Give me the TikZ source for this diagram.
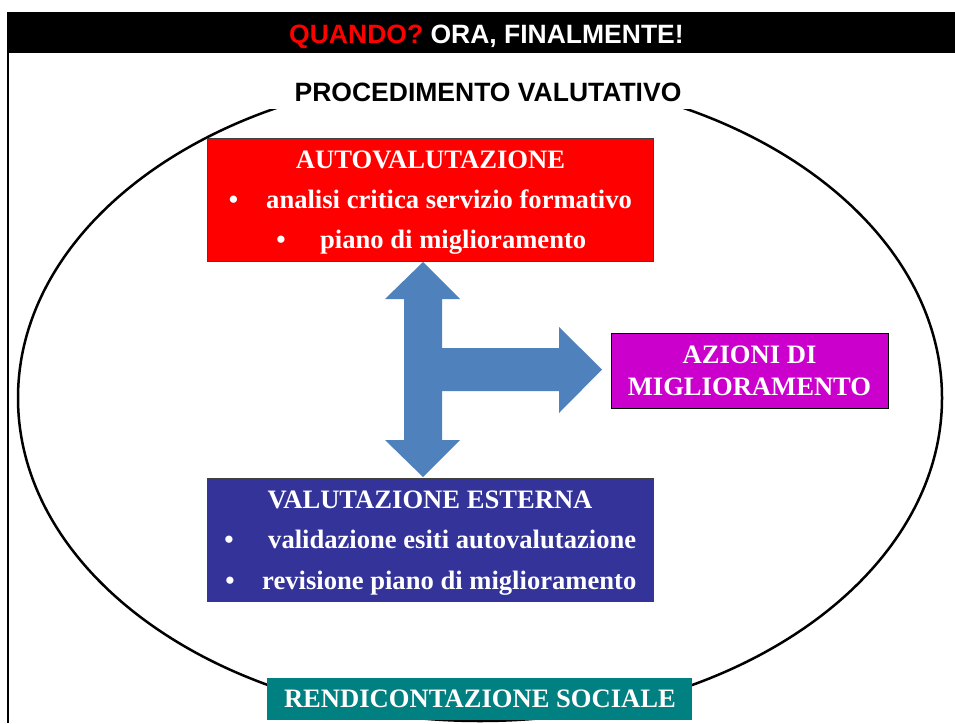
\documentclass[tikz,border=0pt]{standalone}
\usepackage{fontspec}
\setmainfont{Liberation Serif}
\newfontfamily\arialf{Liberation Sans}
\definecolor{boxred}{HTML}{FF0000}
\definecolor{boxblue}{HTML}{333399}
\definecolor{boxmag}{HTML}{CC00CC}
\definecolor{boxteal}{HTML}{008080}
\definecolor{arrowblue}{HTML}{4F81BD}
\begin{document}
\begin{tikzpicture}[x=1pt,y=-1pt,
  panel/.style={draw=black!75, line width=1pt, inner sep=0pt},
  serifbold/.style={font=\fontsize{26.6}{32}\selectfont\bfseries, text=white, inner sep=0pt},
  sansbold/.style={font=\arialf\fontsize{26.5}{30}\selectfont\bfseries, inner sep=0pt},
  bul/.style={serifbold, anchor=base},
  line/.style={serifbold, anchor=base west}]
\useasboundingbox (0,0) rectangle (955,723);
\fill[white] (0,0) rectangle (955,723);
% frame
\node[fill=black, minimum width=948pt, minimum height=41pt, inner sep=0pt] (bar) at (481,32.5) {};
\node[sansbold, anchor=base, text=white] (title) at (486.5,43) {\textcolor{boxred}{QUANDO?} ORA, FINALMENTE!};
\draw[line width=2pt, black] (8,53) -- (8,723);
% ellipse
\draw[line width=2.5pt] (480,398) ellipse [x radius=462, y radius=323];
\node[fill=white, minimum width=426pt, minimum height=38pt, inner sep=0pt] (procbg) at (480,90) {};
\node[sansbold, anchor=base, text=black] (proc) at (488,101.5) {PROCEDIMENTO VALUTATIVO};
% arrow
\fill[arrowblue] (423,262) -- (385,299) -- (404,299) -- (404,440) -- (385,440) -- (423,477)
  -- (460,440) -- (442,440) -- (442,391) -- (559,391) -- (559,413) -- (602,369.5)
  -- (559,327) -- (559,348) -- (442,348) -- (442,299) -- (460,299) -- cycle;
% red box
\node[panel, fill=boxred, minimum width=446pt, minimum height=123pt] (auto) at (430,199.5) {};
\node[bul] (autot) at (430.5,168) {AUTOVALUTAZIONE};
\node[bul] (autob1) at (233.5,208) {\textbullet};
\node[line] (autol1) at (266,208) {analisi critica servizio formativo};
\node[bul] (autob2) at (281,248) {\textbullet};
\node[line] (autol2) at (320,248) {piano di miglioramento};
% magenta box
\node[panel, draw=black, fill=boxmag, minimum width=277pt, minimum height=75pt] (azioni) at (749.5,370.5) {};
\node[bul] (azt1) at (749.5,363) {AZIONI DI};
\node[bul] (azt2) at (749.5,395) {MIGLIORAMENTO};
% blue box
\node[panel, fill=boxblue, minimum width=446pt, minimum height=123pt] (ext) at (430,539.5) {};
\node[bul] (extt) at (430,508) {VALUTAZIONE ESTERNA};
\node[bul] (extb1) at (229,548) {\textbullet};
\node[line] (extl1) at (268,548) {validazione esiti autovalutazione};
\node[bul] (extb2) at (230,589) {\textbullet};
\node[line] (extl2) at (262,589) {revisione piano di miglioramento};
% teal box
\node[fill=boxteal, minimum width=425pt, minimum height=42pt, inner sep=0pt] (rend) at (479.5,699) {};
\node[bul] (rendt) at (480,707) {RENDICONTAZIONE SOCIALE};
\end{tikzpicture}
\end{document}
